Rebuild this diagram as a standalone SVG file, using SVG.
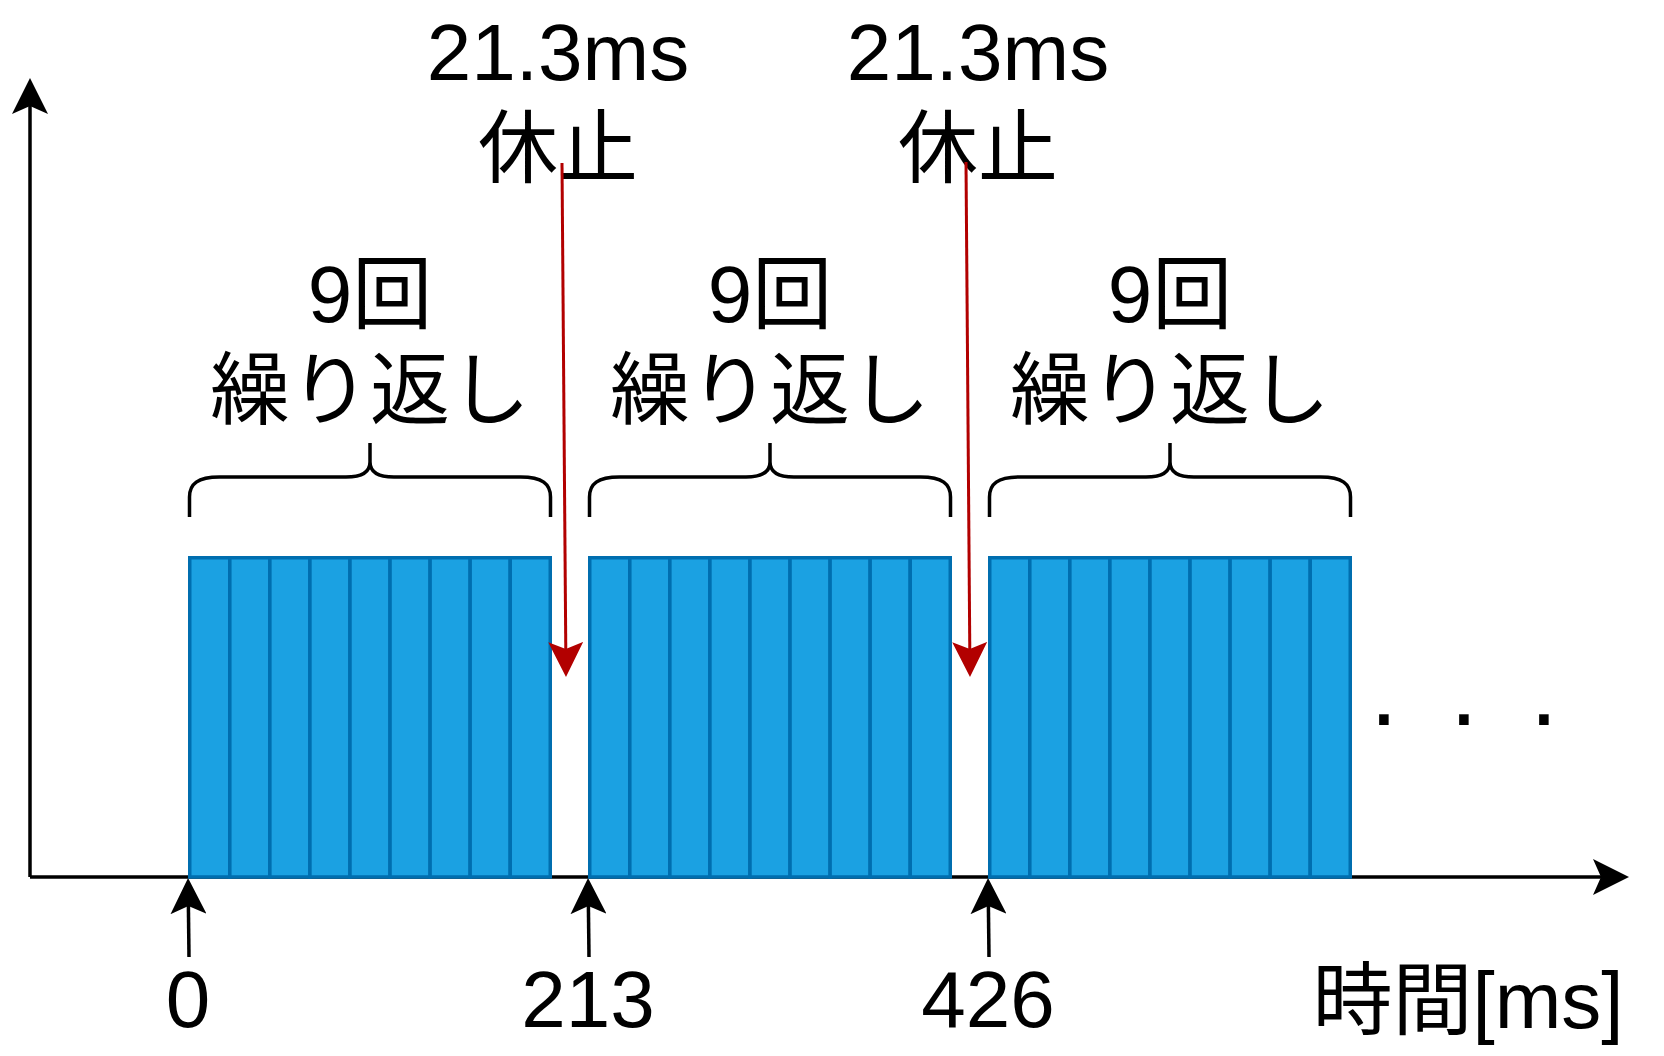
<svg xmlns="http://www.w3.org/2000/svg" width="1664" height="1056" viewBox="0 0 1664 1056">
<style>
.t{font-family:"Liberation Sans","Noto Sans CJK JP",sans-serif;font-size:80px;fill:#000;text-anchor:middle}
.cell{fill:#1BA1E2;stroke:#006EAF;stroke-width:3.5}
.brace{fill:none;stroke:#000;stroke-width:3.5}
.ax{fill:none;stroke:#000;stroke-width:3.5}
.red{fill:none;stroke:#B20000;stroke-width:3}
</style>
<defs>
<marker id="ab" markerUnits="userSpaceOnUse" viewBox="0 0 36 36" markerWidth="36" markerHeight="36" refX="8" refY="18" orient="auto">
<path d="M0,0 L36,18 L0,36 L8,18 Z" fill="#000"/>
</marker>
<marker id="ar" markerUnits="userSpaceOnUse" viewBox="0 0 35 35" markerWidth="35" markerHeight="35" refX="7" refY="17.5" orient="auto">
<path d="M0,0 L35,17.5 L0,35 L7,17.5 Z" fill="#B20000"/>
</marker>
</defs>
<rect width="1664" height="1056" fill="#fff"/>
<g id="connectors">
<path class="ax" d="M30,877 L30,106" marker-end="url(#ab)"/>
<path class="ax" d="M30,877 L1601,877" marker-end="url(#ab)"/>
<path class="ax" d="M189,957 L188.4,906" marker-end="url(#ab)"/>
<path class="ax" d="M589,957 L588.4,906" marker-end="url(#ab)"/>
<path class="ax" d="M989,957 L988.4,906" marker-end="url(#ab)"/>
</g>
<g id="block1">
<rect class="cell" x="189.75" y="557.75" width="40.06" height="319.25"/>
<rect class="cell" x="229.81" y="557.75" width="40.06" height="319.25"/>
<rect class="cell" x="269.87" y="557.75" width="40.06" height="319.25"/>
<rect class="cell" x="309.93" y="557.75" width="40.06" height="319.25"/>
<rect class="cell" x="349.99" y="557.75" width="40.06" height="319.25"/>
<rect class="cell" x="390.05" y="557.75" width="40.06" height="319.25"/>
<rect class="cell" x="430.11" y="557.75" width="40.06" height="319.25"/>
<rect class="cell" x="470.17" y="557.75" width="40.06" height="319.25"/>
<rect class="cell" x="510.23" y="557.75" width="40.02" height="319.25"/>
</g>
<g id="block2">
<rect class="cell" x="589.75" y="557.75" width="40.06" height="319.25"/>
<rect class="cell" x="629.81" y="557.75" width="40.06" height="319.25"/>
<rect class="cell" x="669.87" y="557.75" width="40.06" height="319.25"/>
<rect class="cell" x="709.93" y="557.75" width="40.06" height="319.25"/>
<rect class="cell" x="749.99" y="557.75" width="40.06" height="319.25"/>
<rect class="cell" x="790.05" y="557.75" width="40.06" height="319.25"/>
<rect class="cell" x="830.11" y="557.75" width="40.06" height="319.25"/>
<rect class="cell" x="870.17" y="557.75" width="40.06" height="319.25"/>
<rect class="cell" x="910.23" y="557.75" width="40.02" height="319.25"/>
</g>
<g id="block3">
<rect class="cell" x="989.75" y="557.75" width="40.06" height="319.25"/>
<rect class="cell" x="1029.81" y="557.75" width="40.06" height="319.25"/>
<rect class="cell" x="1069.87" y="557.75" width="40.06" height="319.25"/>
<rect class="cell" x="1109.93" y="557.75" width="40.06" height="319.25"/>
<rect class="cell" x="1149.99" y="557.75" width="40.06" height="319.25"/>
<rect class="cell" x="1190.05" y="557.75" width="40.06" height="319.25"/>
<rect class="cell" x="1230.11" y="557.75" width="40.06" height="319.25"/>
<rect class="cell" x="1270.17" y="557.75" width="40.06" height="319.25"/>
<rect class="cell" x="1310.23" y="557.75" width="40.02" height="319.25"/>
</g>
<g id="brace1">
<path class="brace" d="M189.5,517 L189.5,497 C189.5,484 197.5,477 219.5,477 L346,477 C362,477 370,472 370,462 L370,443 M370,462 C370,472 378,477 394,477 L520.5,477 C542.5,477 550.5,484 550.5,497 L550.5,517"/>
<text class="t" x="370" y="322">9回</text>
<text class="t" x="370" y="418">繰り返し</text>
</g>
<g id="brace2">
<path class="brace" d="M589.5,517 L589.5,497 C589.5,484 597.5,477 619.5,477 L746,477 C762,477 770,472 770,462 L770,443 M770,462 C770,472 778,477 794,477 L920.5,477 C942.5,477 950.5,484 950.5,497 L950.5,517"/>
<text class="t" x="770" y="322">9回</text>
<text class="t" x="770" y="418">繰り返し</text>
</g>
<g id="brace3">
<path class="brace" d="M989.5,517 L989.5,497 C989.5,484 997.5,477 1019.5,477 L1146,477 C1162,477 1170,472 1170,462 L1170,443 M1170,462 C1170,472 1178,477 1194,477 L1320.5,477 C1342.5,477 1350.5,484 1350.5,497 L1350.5,517"/>
<text class="t" x="1170" y="322">9回</text>
<text class="t" x="1170" y="418">繰り返し</text>
</g>
<g id="pause1">
<text class="t" x="558" y="80">21.3ms</text>
<text class="t" x="558" y="176">休止</text>
</g>
<g id="pause2">
<text class="t" x="978" y="80">21.3ms</text>
<text class="t" x="978" y="176">休止</text>
</g>
<g id="pause-arrows">
<path class="red" d="M562,163 L565.78,649" marker-end="url(#ar)"/>
<path class="red" d="M966,162 L969.78,649" marker-end="url(#ar)"/>
</g>
<g id="labels">
<text class="t" x="188" y="1027">0</text>
<text class="t" x="588" y="1027">213</text>
<text class="t" x="988" y="1027">426</text>
<text class="t" x="1468" y="1028">時間[ms]</text>
<text class="t" style="font-size:100px" x="1384 1464 1544" y="725">...</text>
</g>
</svg>
